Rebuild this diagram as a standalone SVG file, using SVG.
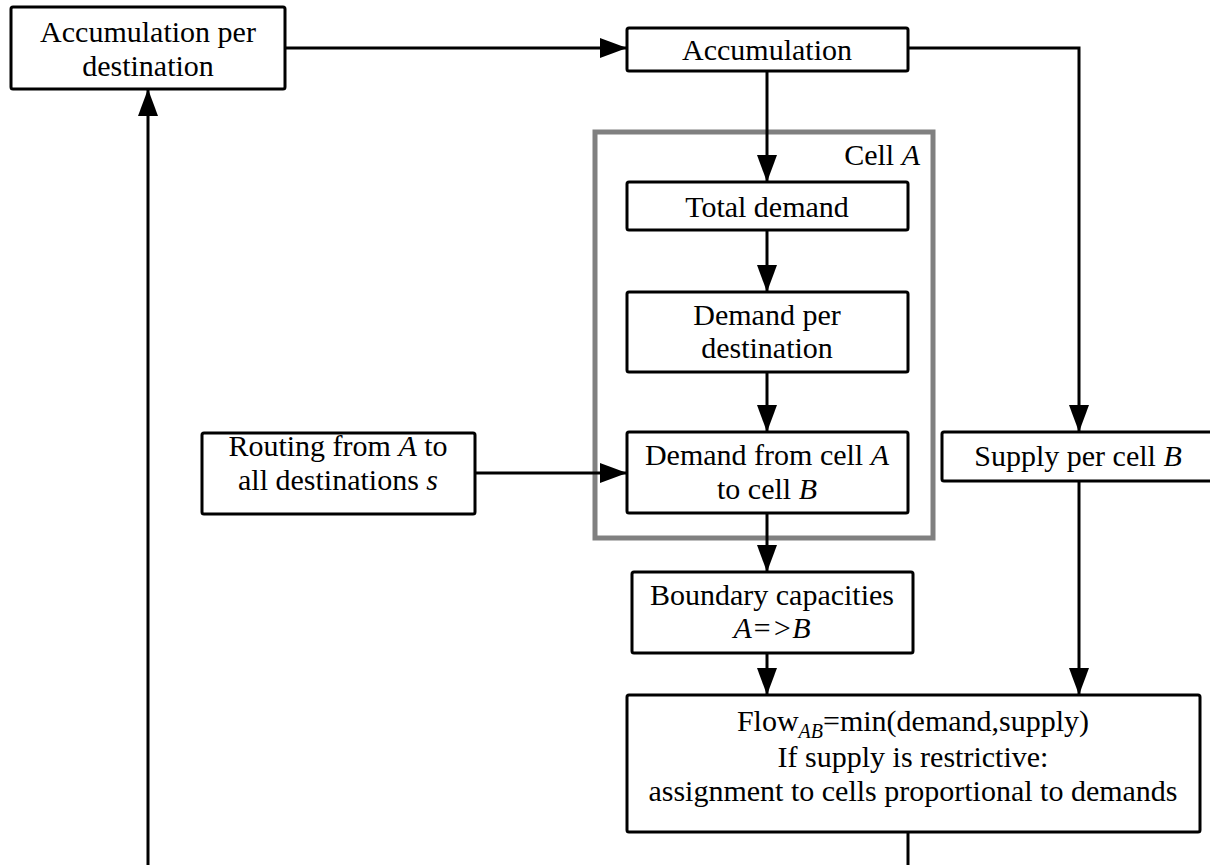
<svg xmlns="http://www.w3.org/2000/svg" width="1210" height="865" viewBox="0 0 1210 865">
<style>
.box{fill:#fff;stroke:#000;stroke-width:3}
.cell{fill:none;stroke:#808080;stroke-width:5}
.t{font-family:"Liberation Serif","Times New Roman",serif;font-size:30px;fill:#000;text-anchor:middle}
.i{font-style:italic}
.ln{fill:none;stroke:#000;stroke-width:3}
</style>
<defs>
<marker id="ah" markerUnits="userSpaceOnUse" markerWidth="27" markerHeight="20" refX="27" refY="10" orient="auto">
<path d="M0,0 L27,10 L0,20 z" fill="#000"/>
</marker>
</defs>
<rect width="1210" height="865" fill="#fff"/>
<g id="cellA">
<rect class="cell" x="595" y="132" width="338" height="406"/>
<text class="t" x="920" y="165" style="text-anchor:end">Cell <tspan class="i">A</tspan></text>
</g>
<g id="connectors">
<path class="ln" d="M285,48 H627" marker-end="url(#ah)"/>
<path class="ln" d="M148,865 V89" marker-end="url(#ah)"/>
<path class="ln" d="M908,48 H1079 V432" marker-end="url(#ah)"/>
<path class="ln" d="M767,71 V182" marker-end="url(#ah)"/>
<path class="ln" d="M767,230 V292" marker-end="url(#ah)"/>
<path class="ln" d="M767,372 V432" marker-end="url(#ah)"/>
<path class="ln" d="M475,473 H627" marker-end="url(#ah)"/>
<path class="ln" d="M767,513 V572" marker-end="url(#ah)"/>
<path class="ln" d="M767,653 V695" marker-end="url(#ah)"/>
<path class="ln" d="M1079,481 V695" marker-end="url(#ah)"/>
<path class="ln" d="M908,832 V865"/>
</g>
<g id="accPerDest">
<rect class="box" x="11" y="7" width="274" height="82" rx="2"/>
<text class="t" x="148" y="42">Accumulation per</text>
<text class="t" x="148" y="76">destination</text>
</g>
<g id="accumulation">
<rect class="box" x="627" y="28" width="281" height="43" rx="2"/>
<text class="t" x="767" y="60">Accumulation</text>
</g>
<g id="totalDemand">
<rect class="box" x="627" y="182" width="281" height="48" rx="2"/>
<text class="t" x="767" y="217">Total demand</text>
</g>
<g id="demandPerDest">
<rect class="box" x="627" y="292" width="281" height="80" rx="2"/>
<text class="t" x="767" y="325">Demand per</text>
<text class="t" x="767" y="358">destination</text>
</g>
<g id="demandAB">
<rect class="box" x="627" y="432" width="281" height="81" rx="2"/>
<text class="t" x="767" y="465">Demand from cell <tspan class="i">A</tspan></text>
<text class="t" x="767" y="499">to cell <tspan class="i">B</tspan></text>
</g>
<g id="routing">
<rect class="box" x="202" y="433" width="273" height="81" rx="2"/>
<text class="t" x="338" y="456">Routing from <tspan class="i">A</tspan> to</text>
<text class="t" x="338" y="490">all destinations <tspan class="i">s</tspan></text>
</g>
<g id="supply">
<rect class="box" x="942" y="432" width="272" height="49" rx="2"/>
<text class="t" x="1078" y="466">Supply per cell <tspan class="i">B</tspan></text>
</g>
<g id="boundary">
<rect class="box" x="632" y="572" width="281" height="81" rx="2"/>
<text class="t" x="772" y="605">Boundary capacities</text>
<text class="t i" x="772" y="638">A=&gt;B</text>
</g>
<g id="flow">
<rect class="box" x="627" y="695" width="573" height="137" rx="2"/>
<text class="t" x="913" y="731">Flow<tspan class="i" font-size="20" dy="7">AB</tspan><tspan dy="-7">=min(demand,supply)</tspan></text>
<text class="t" x="913" y="767">If supply is restrictive:</text>
<text class="t" x="913" y="801">assignment to cells proportional to demands</text>
</g>
</svg>
